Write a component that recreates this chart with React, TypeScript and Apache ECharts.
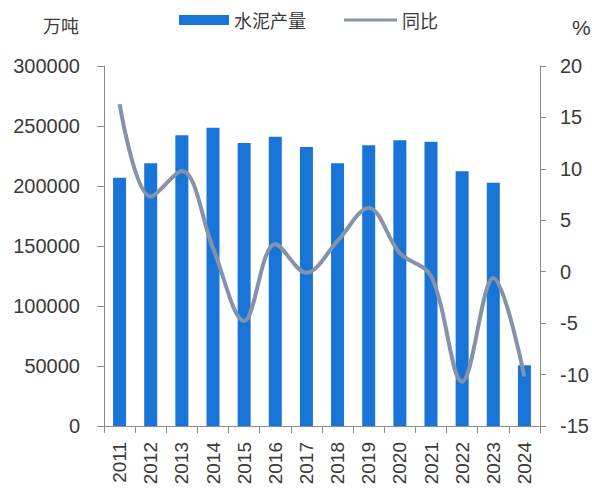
import React, { useEffect, useRef } from "react";
import * as echarts from "echarts";

const years = ["2011", "2012", "2013", "2014", "2015", "2016", "2017", "2018", "2019", "2020", "2021", "2022", "2023", "2024"];
const cementOutput = [206900, 218900, 242200, 248600, 235800, 241100, 232500, 218900, 233900, 238100, 236900, 212200, 202800, 50600];
const yoyGrowth = [16.3, 7.3, 9.8, 2.3, -4.8, 2.7, -0.1, 3.0, 6.2, 1.8, -0.4, -10.7, -0.6, -10.2];
const seriesNames = ["水泥产量", "同比"];
const leftUnit = "万吨";
const rightUnit = "%";

const labelColor = "#3a3a3a";
const axisColor = "#8c8c8c";
const barColor = "#1874d6";
const lineColor = "#8593aa";

export default function App() {
  const ref = useRef<HTMLDivElement>(null);
  useEffect(() => {
    if (!ref.current) return;
    const chart = echarts.init(ref.current, undefined, { renderer: "svg" });
    chart.setOption({
      animation: false,
      backgroundColor: "#ffffff",
      legend: [
        {
          data: [{ name: seriesNames[0], icon: "rect" }],
          left: 174,
          top: 6,
          itemWidth: 50,
          itemHeight: 10,
          textStyle: { fontSize: 18, color: labelColor, fontFamily: "Noto Sans CJK SC" },
        },
        {
          data: [{ name: seriesNames[1], icon: "rect", itemStyle: { color: lineColor } }],
          left: 339,
          top: 6,
          itemWidth: 53,
          itemHeight: 3,
          textStyle: { fontSize: 18, color: labelColor, fontFamily: "Noto Sans CJK SC" },
        },
      ],
      graphic: [
        {
          type: "text",
          left: 43,
          top: 16,
          style: { text: leftUnit, fontSize: 18, fill: labelColor, fontFamily: "Noto Sans CJK SC" },
        },
        {
          type: "text",
          left: 572,
          top: 17,
          style: { text: rightUnit, fontSize: 21, fill: labelColor, fontFamily: "Liberation Sans" },
        },
      ],
      grid: { left: 104, right: 52, top: 66, bottom: 64 },
      xAxis: {
        type: "category",
        data: years,
        boundaryGap: true,
        axisLine: { lineStyle: { color: axisColor, width: 1 } },
        axisTick: { show: true, length: 7, lineStyle: { color: axisColor } },
        axisLabel: { rotate: 90, fontSize: 19, color: labelColor, fontFamily: "Liberation Sans", margin: 16 },
      },
      yAxis: [
        {
          type: "value",
          min: 0,
          max: 300000,
          interval: 50000,
          splitLine: { show: false },
          axisLine: { show: true, lineStyle: { color: axisColor, width: 1 } },
          axisTick: { show: true, length: 7, lineStyle: { color: axisColor } },
          axisLabel: {
            fontSize: 20,
            color: labelColor,
            fontFamily: "Liberation Sans",
            margin: 24,
            formatter: (v: number) => String(v),
          },
        },
        {
          type: "value",
          min: -15,
          max: 20,
          interval: 5,
          position: "right",
          splitLine: { show: false },
          axisLine: { show: true, lineStyle: { color: axisColor, width: 1 } },
          axisTick: { show: true, length: 6, lineStyle: { color: axisColor } },
          axisLabel: { fontSize: 20, color: labelColor, fontFamily: "Liberation Sans", margin: 20 },
        },
      ],
      series: [
        {
          name: seriesNames[0],
          type: "bar",
          data: cementOutput,
          barWidth: 13,
          itemStyle: { color: barColor },
        },
        {
          name: seriesNames[1],
          type: "line",
          yAxisIndex: 1,
          data: yoyGrowth,
          smooth: 0.35,
          symbol: "none",
          lineStyle: { color: lineColor, width: 4 },
          itemStyle: { color: lineColor },
        },
      ],
    });
    return () => chart.dispose();
  }, []);
  return <div ref={ref} style={{ width: 592, height: 490, position: "absolute", left: 0, top: 0 }} />;
}
